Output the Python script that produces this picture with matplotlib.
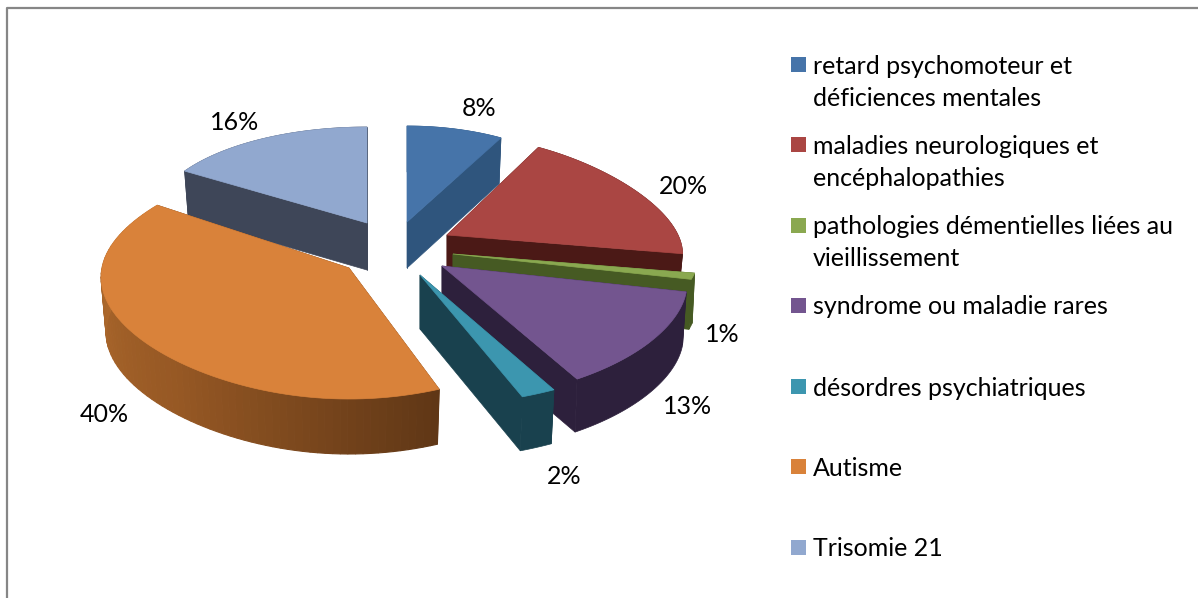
import numpy as np
import matplotlib
matplotlib.use("Agg")
import matplotlib.pyplot as plt
from matplotlib.patches import Polygon, Rectangle


# ---------------- DATA ----------------
categories = [
    "retard psychomoteur et\ndéficiences mentales",
    "maladies neurologiques et\nencéphalopathies",
    "pathologies démentielles liées au\nvieillissement",
    "syndrome ou maladie rares",
    "désordres psychiatriques",
    "Autisme",
    "Trisomie 21",
]
shares = [8, 20, 1, 13, 2, 40, 16]
# --------------------------------------

# ---------------- STYLE ----------------
top_colors = ["#4674a9", "#aa4643", "#8aa850", "#73558f", "#3c96af", "#d9823a", "#91a8cf"]
wall_colors = ["#2f557d", "#4b1916", "#465a23", "#2d203c", "#19414e", "#6b3c18", "#3e4658"]
# apex of each exploded slice, in image pixels
apex_x = [407, 447, 453, 442, 420, 349, 367]
apex_y = [222, 235, 254, 266, 275, 268, 223]
# radii vary with how far forward a point sits (fake perspective): a + b*front + c*front^2
radius_x = [(195, 0, 0), (231, 47, 0), (246, 0, 0), (241, 45, 0), (278, 0, 0), (247, 23, -27), (216, 0, 0)]
radius_y = [(96, 0, 0), (100, 0, 0), (102, 0, 0), (94, 40, 0), (131, 0, 0), (122, 9, 0), (98, 2, 0)]
depths = [46, 48, 50, 53, 54, 55, 47]
shrinks = [0.98, 0.98, 0.99, 0.985, 0.98, 0.98, 0.98]
draw_order = [6, 0, 1, 2, 3, 5, 4]

label_x = [479, 683, 722, 688, 564, 104, 235]
label_y = [108.5, 186, 334, 406, 477, 415, 122]
legend_y = [64, 144, 225, 305, 386, 466, 547]
LINE_STEP = 32
TEXT_SHIFT = 2
FONT = "Lato"
FONT_SIZE = 18
# ---------------------------------------


def outer_points(i, theta):
    # theta is clockwise from 12 o'clock, in radians
    front = -np.cos(theta)
    rx = radius_x[i][0] + radius_x[i][1] * front + radius_x[i][2] * front**2
    ry = radius_y[i][0] + radius_y[i][1] * front + radius_y[i][2] * front**2
    return rx * np.sin(theta), ry * front


def shade_orange(frac):
    stops = np.array([[96, 55, 22], [150, 88, 36], [172, 104, 44], [192, 116, 50]]) / 255
    pos = [0.0, 0.45, 0.8, 1.0]
    return [np.interp(frac, pos, stops[:, k]) for k in range(3)]


def draw_slice(ax, i, start, end):
    thetas = np.linspace(start, end, 80)
    dx, dy = outer_points(i, thetas)
    ax0, ay0 = apex_x[i], apex_y[i]
    d = depths[i]
    shrink = shrinks[i]

    def wall(k):
        return [
            (ax0, ay0),
            (ax0 + dx[k], ay0 + dy[k]),
            (ax0 + dx[k] * shrink, ay0 + dy[k] + d),
            (ax0, ay0 + d),
        ]

    # cut faces first, the hidden ones end up under the top or the outer wall
    for k in (0, -1):
        ax.add_patch(Polygon(wall(k), closed=True, fc=wall_colors[i], ec=wall_colors[i], lw=0.5))

    if i == 5:
        # orange outer wall as thin strips so it can carry a gradient
        for k in range(len(thetas) - 1):
            strip = [
                (ax0 + dx[k], ay0 + dy[k]),
                (ax0 + dx[k + 1], ay0 + dy[k + 1]),
                (ax0 + dx[k + 1] * shrink, ay0 + dy[k + 1] + d),
                (ax0 + dx[k] * shrink, ay0 + dy[k] + d),
            ]
            color = shade_orange(k / (len(thetas) - 2))
            ax.add_patch(Polygon(strip, closed=True, fc=color, ec=color, lw=0.8))
    else:
        upper = list(zip(ax0 + dx, ay0 + dy))
        lower = list(zip(ax0 + dx * shrink, ay0 + dy + d))
        ax.add_patch(Polygon(upper + lower[::-1], closed=True, fc=wall_colors[i],
                             ec=wall_colors[i], lw=0.5))

    top = [(ax0, ay0)] + list(zip(ax0 + dx, ay0 + dy))
    ax.add_patch(Polygon(top, closed=True, fc=top_colors[i], ec=top_colors[i], lw=0.5))


def main():
    fig = plt.figure(figsize=(11.98, 5.98), dpi=100, facecolor="white")
    ax = fig.add_axes([0, 0, 1, 1])
    ax.set_xlim(0, 1198)
    ax.set_ylim(598, 0)
    ax.axis("off")

    # chart frame, only top and left fall inside the crop
    ax.plot([7, 7, 1198], [598, 8, 8], color="#868686", lw=1.6)

    edges = np.radians(np.concatenate([[0], np.cumsum(shares)]) * 3.6)
    for i in draw_order:
        draw_slice(ax, i, edges[i], edges[i + 1])

    for i, share in enumerate(shares):
        ax.text(label_x[i], label_y[i], f"{share}%", family=FONT, fontsize=FONT_SIZE,
                color="black", ha="center", va="center")

    for i, name in enumerate(categories):
        ax.add_patch(Rectangle((791, legend_y[i] - 7.5), 15, 15, fc=top_colors[i], ec="none"))
        for j, line in enumerate(name.split("\n")):
            ax.text(813, legend_y[i] + TEXT_SHIFT + j * LINE_STEP, line, family=FONT,
                    fontsize=FONT_SIZE, color="black", ha="left", va="center")

    fig.savefig("out.png", dpi=100)


if __name__ == "__main__":
    main()
